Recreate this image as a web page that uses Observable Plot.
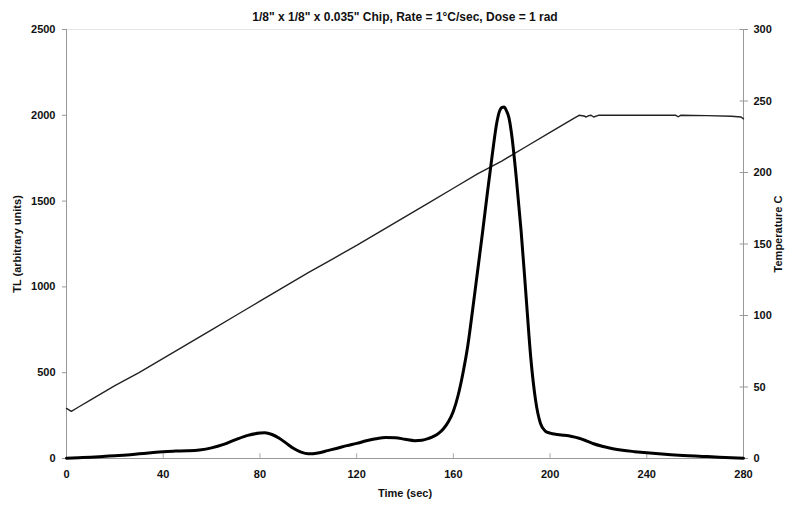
<!DOCTYPE html>
<html>
<head>
<meta charset="utf-8">
<script src="https://cdn.jsdelivr.net/npm/d3@7"></script>
<script src="https://cdn.jsdelivr.net/npm/@observablehq/plot@0.6"></script>
<style>
  html, body { margin: 0; padding: 0; background: #fff; }
  #chart svg { display: block; }
</style>
</head>
<body>
<div id="chart"></div>
<script>
const titleText = "1/8\" x 1/8\" x 0.035\" Chip, Rate = 1°C/sec, Dose = 1 rad";
const xLabel = "Time (sec)";
const yLeftLabel = "TL (arbitrary units)";
const yRightLabel = "Temperature C";

const xTicks = [0, 40, 80, 120, 160, 200, 240, 280];
const yLeftTicks = [0, 500, 1000, 1500, 2000, 2500];
const yRightTicks = [0, 50, 100, 150, 200, 250, 300];

const tlTime = [0, 5, 10, 15, 20, 25, 30, 35, 40, 45, 50, 55, 60, 65, 70, 75, 80, 82, 85, 88, 91, 94, 97, 100,
  104, 108, 112, 116, 120, 124, 128, 132, 136, 140, 144, 147, 150, 152, 154, 156, 158, 160, 162, 164, 166, 168,
  170, 172, 174, 176, 178, 179, 180, 181, 182, 183, 184, 186, 188, 190, 192, 194, 196, 198, 200, 203, 206, 209,
  212, 215, 218, 222, 226, 230, 235, 240, 245, 250, 255, 260, 265, 270, 275, 280];
const tlValue = [2, 5, 8, 12, 16, 20, 27, 34, 40, 43, 45, 50, 62, 82, 110, 135, 148, 150, 140, 118, 88, 58, 37, 27,
  32, 46, 60, 75, 88, 103, 115, 122, 121, 112, 104, 106, 118, 130, 148, 175, 215, 275, 370, 500, 660, 870,
  1090, 1310, 1540, 1760, 1960, 2020, 2045, 2048, 2025, 1985, 1900, 1640, 1330, 960, 590, 340, 205, 160, 148, 140, 135, 128,
  118, 103, 86, 70, 57, 48, 40, 33, 27, 22, 18, 14, 11, 8, 5, 2];

const tempTime = [0, 2, 5, 10, 20, 30, 40, 50, 60, 70, 80, 90, 100, 110, 120, 130, 140, 150, 160, 170, 180, 190,
  200, 210, 212, 214, 215, 216, 217, 218, 220, 230, 240, 252, 253, 254, 265, 275, 279, 280];
const tempValue = [35, 33, 36, 41, 51, 60, 70, 80, 90, 100, 110, 120, 130, 139.5, 149, 159, 169, 179, 189, 199, 208, 218,
  228, 238, 240, 239.5, 238.8, 239.8, 240, 238.8, 240, 240, 240, 240, 239, 240, 239.8, 239.3, 238.8, 237.5];

const tlMax = 2500, tempMax = 300;
const k = tlMax / tempMax;

const tl = tlTime.map((t, i) => ({t, v: tlValue[i]}));
const temp = tempTime.map((t, i) => ({t, v: tempValue[i] * k}));

const font = "'Liberation Sans', Arial, sans-serif";

const chart = Plot.plot({
  width: 790,
  height: 509,
  marginTop: 29,
  marginBottom: 51,
  marginLeft: 66,
  marginRight: 47,
  style: {fontFamily: font, fontSize: "11px", fontWeight: "bold", color: "#111", background: "#fff"},
  x: {type: "linear", domain: [0, 280]},
  y: {type: "linear", domain: [0, 2500]},
  marks: [
    Plot.ruleY([2500], {stroke: "#e6e6e6", strokeWidth: 1}),
    Plot.ruleY([0], {stroke: "#999", strokeWidth: 1}),
    Plot.ruleX([0], {stroke: "#999", strokeWidth: 1}),
    Plot.ruleX([280], {stroke: "#999", strokeWidth: 1}),
    Plot.axisX({ticks: xTicks, tickSize: 0, tickPadding: 12, label: null, fontSize: 11, fontWeight: "bold"}),
    Plot.ruleX(xTicks.slice(1, -1), {y1: 0, y2: 28, stroke: "#aaa"}),
    Plot.axisY({ticks: yLeftTicks, anchor: "left", tickSize: 4, tickPadding: 7, label: null, stroke: "#999",
      tickFormat: d => String(d)}),
    Plot.axisY(yRightTicks.map(d => d * k), {
      anchor: "right", tickSize: 4, tickPadding: 6, label: null, stroke: "#999",
      tickFormat: d => String(Math.round(d / k))
    }),
    Plot.ruleY(yRightTicks.slice(1).map(d => d * k), {x1: 278.6, x2: 280, stroke: "#999"}),
    Plot.line(temp, {x: "t", y: "v", stroke: "#222", strokeWidth: 1.4, curve: "linear"}),
    Plot.line(tl, {x: "t", y: "v", stroke: "#000", strokeWidth: 3, curve: "monotone-x"}),
    Plot.text([titleText], {frameAnchor: "top", dy: -17, fontSize: 12, fontWeight: "bold", fill: "#111"}),
    Plot.text([xLabel], {frameAnchor: "bottom", dy: 38, fontSize: 11, fontWeight: "bold", fill: "#111"}),
    Plot.text([yLeftLabel], {frameAnchor: "left", textAnchor: "middle", dx: -49, rotate: -90, fontSize: 11, fontWeight: "bold", fill: "#111"}),
    Plot.text([yRightLabel], {frameAnchor: "right", textAnchor: "middle", dx: 35, dy: -10, rotate: -90, fontSize: 11, fontWeight: "bold", fill: "#111"})
  ]
});
document.getElementById("chart").appendChild(chart);
</script>
</body>
</html>
